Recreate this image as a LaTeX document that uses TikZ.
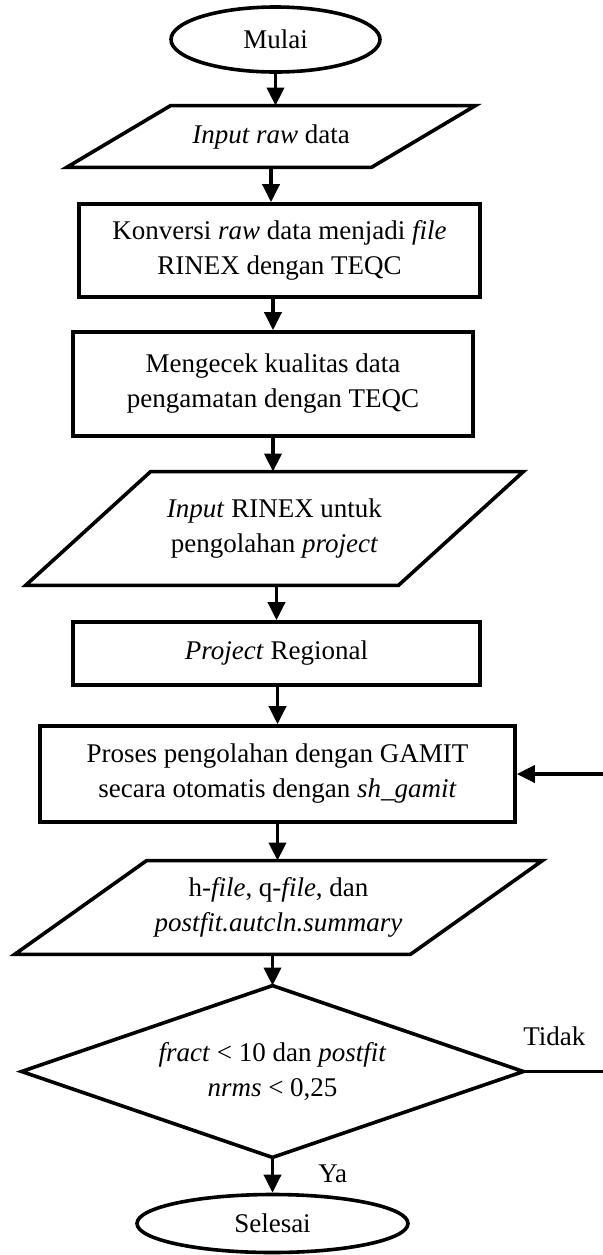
\documentclass[tikz,border=0pt]{standalone}
\usepackage{fontspec}
\setmainfont{Liberation Serif}
\usetikzlibrary{arrows.meta,shapes.geometric}
\begin{document}
\begin{tikzpicture}[x=0.5pt,y=-0.5pt,
  every node/.style={font=\fontsize{13.5}{17.5}\selectfont, align=center, inner sep=0pt},
  outl/.style={draw, line width=1.8pt},
  boxs/.style={outl, rectangle, inner sep=0pt},
  term/.style={outl, ellipse, inner sep=0pt},
  holder/.style={rectangle, inner sep=0pt},
  arr/.style={line width=1.8pt, -{Triangle[length=9pt,width=8.5pt]}},
  plain/.style={line width=1.8pt}]
\useasboundingbox (0,0) rectangle (603,1255);

\node[term, minimum width=104.5pt, minimum height=32.5pt] (m) at (275.5,39.5) {Mulai};

\node[holder, minimum width=204pt, minimum height=30.5pt] (p1) at (271,136.5) {\textit{Input raw} data};
\draw[outl] ([xshift=52pt]p1.north west) -- (p1.north east) -- ([xshift=-52pt]p1.south east) -- (p1.south west) -- cycle;

\node[boxs, minimum width=200.5pt, minimum height=46.5pt] (b1) at (279.5,250.5) {Konversi \textit{raw} data menjadi \textit{file}\\RINEX dengan TEQC};

\node[boxs, minimum width=200pt, minimum height=52pt] (b2) at (273,384) {Mengecek kualitas data\\pengamatan dengan TEQC};

\node[holder, minimum width=248.5pt, minimum height=56.5pt] (p2) at (274.5,528.5) {\textit{Input} RINEX untuk\\pengolahan \textit{project}};
\draw[outl] ([xshift=62.5pt]p2.north west) -- (p2.north east) -- ([xshift=-62.5pt]p2.south east) -- (p2.south west) -- cycle;

\node[boxs, minimum width=203.5pt, minimum height=31.5pt] (b3) at (276.5,653.5) {\textit{Project} Regional};

\node[boxs, minimum width=237.5pt, minimum height=48pt] (b4) at (277.5,774) {Proses pengolahan dengan GAMIT\\secara otomatis dengan \textit{sh\_gamit}};

\node[holder, minimum width=263.5pt, minimum height=46.5pt] (p3) at (278.5,907.5) {h-\textit{file}, q-\textit{file}, dan\\\textit{postfit.autcln.summary}};
\draw[outl] ([xshift=66pt]p3.north west) -- (p3.north east) -- ([xshift=-66pt]p3.south east) -- (p3.south west) -- cycle;

\node[holder, minimum width=250.5pt, minimum height=85.5pt] (dia) at (272.5,1071.5) {\textit{fract} < 10 dan \textit{postfit}\\\textit{nrms} < 0,25};
\draw[outl] (dia.north) -- (dia.east) -- (dia.south) -- (dia.west) -- cycle;

\node[term, minimum width=135.5pt, minimum height=29pt] (s) at (272.5,1223.5) {Selesai};

\node[anchor=base west] (tidak) at (523,1045) {Tidak};
\node[anchor=base west] (ya) at (318,1182) {Ya};

\coordinate (fbR) at (605,1071.5);
\coordinate (fbT) at (605,774);

\draw[arr] (m.south) -- (m.south |- p1.north);
\draw[arr] (p1.south) -- (p1.south |- b1.north);
\draw[arr] (b1.south -| b2.north) -- (b2.north);
\draw[arr] (b2.south) -- (b2.south |- p2.north);
\draw[arr] (b3.north |- p2.south) -- (b3.north);
\draw[arr] (b4.north |- b3.south) -- (b4.north);
\draw[arr] (b4.south) -- (b4.south |- p3.north);
\draw[arr] (dia.north |- p3.south) -- (dia.north);
\draw[arr] (dia.south) -- (dia.south |- s.north);
\draw[plain] (dia.east) -- (fbR);
\draw[arr] (fbT) -- (b4.east);
\end{tikzpicture}
\end{document}
